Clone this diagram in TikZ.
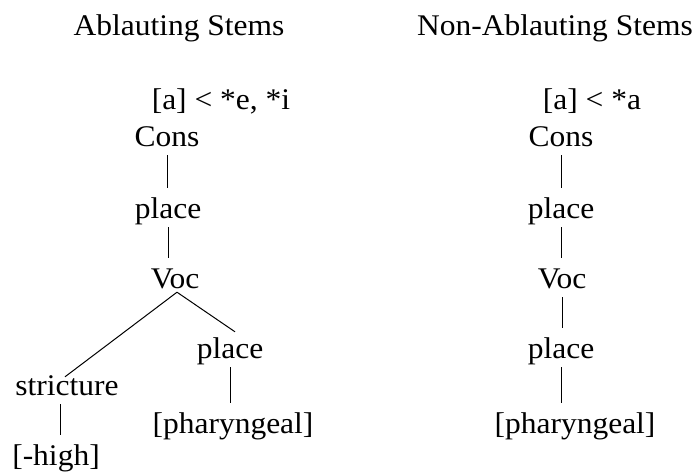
\documentclass[tikz,border=0pt]{standalone}
\usepackage{fontspec}
\setmainfont{Liberation Serif}[FakeStretch=1.05]
\begin{document}
\begin{tikzpicture}[x=1pt,y=-1pt,
  lbl/.style={anchor=base,inner sep=2pt,text height=19pt,text depth=7pt,font=\fontsize{30}{36}\selectfont},
  link/.style={line width=1pt,shorten >=9pt},
  branch/.style={line width=1pt}]
\useasboundingbox (0,0) rectangle (698,474);
% titles
\node[lbl] (t1) at (179,35) {Ablauting Stems};
\node[lbl] (t2) at (555,35) {Non-Ablauting Stems};
% left tree
\node[lbl] (lsrc) at (221,109) {[a] < *e, *i};
\node[lbl] (lcons) at (167,146) {Cons};
\node[lbl] (lplace) at (168,218) {place};
\node[lbl] (lvoc) at (175,288) {Voc};
\node[lbl] (lplaceR) at (230,358) {place};
\node[lbl] (lphar) at (233,433) {[pharyngeal]};
\node[lbl] (lstr) at (67,395) {stricture};
\node[lbl] (lhigh) at (56,465) {[-high]};
\draw[link] (lcons.south) -- (lcons.south |- lplace.north);
\draw[link] (lplace.south) -- (lplace.south |- lvoc.north);
\draw[branch] ([xshift=2pt,yshift=5pt]lvoc.south) -- ([xshift=-2pt,yshift=-3pt]lstr.north);
\draw[branch] ([xshift=2pt,yshift=5pt]lvoc.south) -- ([xshift=5pt,yshift=5pt]lplaceR.north);
\draw[link] (lplaceR.south) -- (lplaceR.south |- lphar.north);
\draw[link] ([xshift=-7pt]lstr.south) -- ([xshift=-7pt]lstr.south |- lhigh.north);
% right tree
\node[lbl] (rsrc) at (592,109) {[a] < *a};
\node[lbl] (rcons) at (561,146) {Cons};
\node[lbl] (rplace) at (561,218) {place};
\node[lbl] (rvoc) at (562,288) {Voc};
\node[lbl] (rplace2) at (561,358) {place};
\node[lbl] (rphar) at (575,433) {[pharyngeal]};
\draw[link] (rcons.south) -- (rcons.south |- rplace.north);
\draw[link] (rplace.south) -- (rplace.south |- rvoc.north);
\draw[link] (rvoc.south) -- (rvoc.south |- rplace2.north);
\draw[link] (rplace2.south) -- (rplace2.south |- rphar.north);
\end{tikzpicture}
\end{document}
